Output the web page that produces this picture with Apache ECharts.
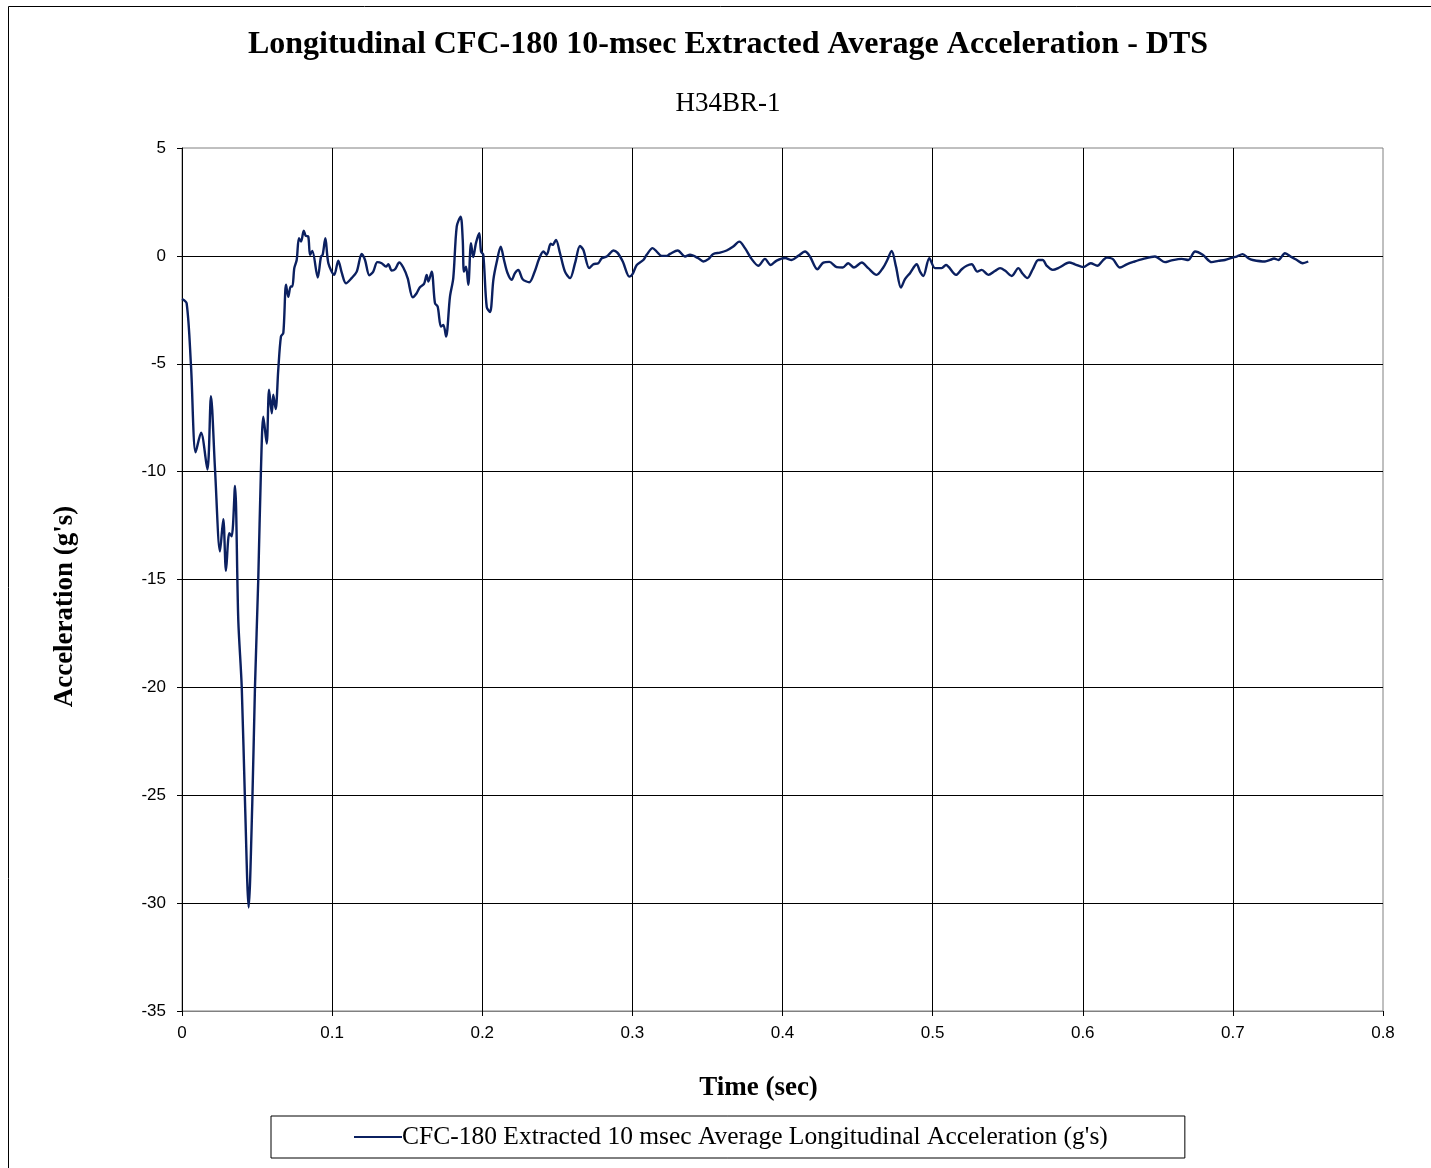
<!DOCTYPE html>
<html>
<head>
<meta charset="utf-8">
<title>Longitudinal CFC-180 10-msec Extracted Average Acceleration - DTS</title>
<script src="https://cdn.jsdelivr.net/npm/echarts@6/dist/echarts.min.js"></script>
<style>
  html, body { margin: 0; padding: 0; background: #fff; }
  #chart { width: 1431px; height: 1168px; }
</style>
</head>
<body>
<div id="chart"></div>
<script>
// time (sec) and acceleration (g's)
const timeSec = [
  0, 0.0031, 0.0060, 0.0091, 0.0127, 0.0169, 0.0193, 0.0220, 0.0253, 0.0275,
  0.0293, 0.0315, 0.0331, 0.0353, 0.0375, 0.0398, 0.0420, 0.0444, 0.0468, 0.0486,
  0.0508, 0.0526, 0.0542, 0.0564, 0.0580, 0.0598, 0.0608, 0.0624, 0.0641, 0.0659,
  0.0675, 0.0693, 0.0708, 0.0724, 0.0735, 0.0748, 0.0764, 0.0779, 0.0793, 0.0811,
  0.0824, 0.0841, 0.0853, 0.0868, 0.0904, 0.0926, 0.0937, 0.0955, 0.0975, 0.1014,
  0.1041, 0.1064, 0.1092, 0.1130, 0.1164, 0.1197, 0.1219, 0.1248, 0.1274, 0.1301,
  0.1330, 0.1359, 0.1374, 0.1397, 0.1419, 0.1447, 0.1474, 0.1503, 0.1537, 0.1563,
  0.1585, 0.1612, 0.1630, 0.1641, 0.1663, 0.1685, 0.1703, 0.1725, 0.1741, 0.1759,
  0.1785, 0.1807, 0.1830, 0.1856, 0.1870, 0.1878, 0.1892, 0.1907, 0.1925, 0.1940,
  0.1958, 0.1980, 0.1992, 0.2007, 0.2030, 0.2052, 0.2074, 0.2096, 0.2123, 0.2145,
  0.2167, 0.2196, 0.2218, 0.2240, 0.2269, 0.2313, 0.2347, 0.2380, 0.2407, 0.2429,
  0.2456, 0.2469, 0.2491, 0.2518, 0.2551, 0.2585, 0.2618, 0.2651, 0.2673, 0.2713,
  0.2740, 0.2773, 0.2796, 0.2829, 0.2846, 0.2873, 0.2900, 0.2936, 0.2980, 0.3002,
  0.3029, 0.3073, 0.3095, 0.3135, 0.3162, 0.3195, 0.3229, 0.3251, 0.3302, 0.3351,
  0.3384, 0.3439, 0.3472, 0.3506, 0.3539, 0.3584, 0.3628, 0.3672, 0.3712, 0.3750,
  0.3795, 0.3839, 0.3883, 0.3921, 0.3961, 0.4017, 0.4061, 0.4105, 0.4150, 0.4183,
  0.4232, 0.4272, 0.4312, 0.4361, 0.4401, 0.4438, 0.4476, 0.4528, 0.4571, 0.4627,
  0.4671, 0.4698, 0.4727, 0.4756, 0.4789, 0.4816, 0.4849, 0.4894, 0.4916, 0.4938,
  0.4978, 0.5016, 0.5060, 0.5089, 0.5156, 0.5194, 0.5227, 0.5260, 0.5298, 0.5327,
  0.5371, 0.5415, 0.5449, 0.5482, 0.5527, 0.5571, 0.5600, 0.5631, 0.5667, 0.5704,
  0.5733, 0.5760, 0.5800, 0.5844, 0.5910, 0.5948, 0.6004, 0.6053, 0.6097, 0.6133,
  0.6160, 0.6199, 0.6248, 0.6293, 0.6337, 0.6403, 0.6481, 0.6548, 0.6586, 0.6659,
  0.6703, 0.6748, 0.6799, 0.6859, 0.6903, 0.6947, 0.6999, 0.7025, 0.7065, 0.7103,
  0.7132, 0.7214, 0.7248, 0.7274, 0.7303, 0.7347, 0.7392, 0.7426, 0.7465, 0.7502
];
const accelG = [
  -2.0, -2.2, -5.1, -9.1, -8.2, -9.9, -6.5, -9.9, -13.7, -12.2,
  -14.6, -12.85, -13.0, -10.66, -16.9, -20.0, -25.4, -30.2, -25.4, -20.0,
  -15.0, -9.9, -7.45, -8.7, -6.2, -7.3, -6.44, -7.1, -5.3, -3.74,
  -3.57, -1.34, -1.9, -1.42, -1.42, -0.57, -0.19, 0.82, 0.66, 1.17,
  0.93, 0.9, 0.05, 0.23, -1.0, -0.03, 0.05, 0.82, -0.34, -0.88,
  -0.22, -0.78, -1.27, -1.03, -0.73, 0.09, -0.19, -0.9, -0.73, -0.29,
  -0.34, -0.5, -0.39, -0.68, -0.62, -0.31, -0.54, -1.03, -1.92, -1.73,
  -1.45, -1.3, -0.88, -1.19, -0.73, -2.19, -2.35, -3.28, -3.2, -3.74,
  -1.89, -1.03, 1.36, 1.82, 0.74, -0.73, -0.5, -1.34, 0.59, -0.06,
  0.59, 1.05, 0.2, 0.05, -2.38, -2.6, -1.11, -0.3, 0.43, -0.19,
  -0.77, -1.11, -0.8, -0.65, -1.08, -1.22, -0.77, -0.11, 0.2, 0.05,
  0.56, 0.51, 0.74, 0.12, -0.73, -1.03, -0.34, 0.46, 0.28, -0.57,
  -0.39, -0.34, -0.11, -0.03, 0.08, 0.25, 0.15, -0.26, -0.96, -0.83,
  -0.42, -0.19, 0.05, 0.36, 0.2, 0.0, 0.0, 0.09, 0.25, -0.03,
  0.05, -0.11, -0.26, -0.15, 0.09, 0.15, 0.25, 0.43, 0.66, 0.36,
  -0.15, -0.46, -0.14, -0.42, -0.22, -0.1, -0.19, 0.0, 0.2, -0.03,
  -0.62, -0.31, -0.28, -0.52, -0.54, -0.34, -0.54, -0.31, -0.57, -0.88,
  -0.54, -0.19, 0.23, -0.5, -1.47, -1.08, -0.8, -0.39, -0.73, -0.93,
  -0.11, -0.57, -0.57, -0.42, -0.88, -0.62, -0.46, -0.39, -0.73, -0.65,
  -0.88, -0.7, -0.57, -0.68, -0.93, -0.57, -0.83, -1.03, -0.62, -0.19,
  -0.19, -0.46, -0.65, -0.54, -0.31, -0.39, -0.52, -0.34, -0.46, -0.22,
  -0.08, -0.14, -0.54, -0.39, -0.28, -0.14, -0.03, -0.29, -0.22, -0.14,
  -0.19, 0.2, 0.05, -0.29, -0.23, -0.19, -0.08, -0.03, 0.08, -0.11,
  -0.19, -0.26, -0.19, -0.12, -0.19, 0.12, -0.06, -0.19, -0.34, -0.26
];

const serif = '"Liberation Serif", "Times New Roman", serif';
const sans = '"Liberation Sans", Arial, sans-serif';
const lineColor = '#0b2060';
const seriesName = "CFC-180 Extracted 10 msec Average Longitudinal Acceleration (g's)";

const chart = echarts.init(document.getElementById('chart'), null, { renderer: 'canvas' });

chart.setOption({
  backgroundColor: '#fff',
  animation: false,
  title: [
    {
      text: 'Longitudinal CFC-180 10-msec Extracted Average Acceleration - DTS',
      left: 723,
      top: 24,
      textAlign: 'center',
      textStyle: { fontFamily: serif, fontSize: 32, fontWeight: 'bold', color: '#000' }
    },
    {
      text: 'H34BR-1',
      left: 723,
      top: 85,
      textAlign: 'center',
      textStyle: { fontFamily: serif, fontSize: 27, fontWeight: 'normal', color: '#000' }
    }
  ],
  graphic: [
    {
      type: 'rect',
      shape: { x: 8.5, y: 6.5, width: 1440, height: 1180 },
      style: { fill: 'none', stroke: '#000', lineWidth: 1 },
      silent: true,
      z: -1
    }
  ],
  grid: {
    left: 182,
    top: 148,
    width: 1201,
    height: 863,
    show: true,
    borderColor: '#808080',
    borderWidth: 1,
    backgroundColor: '#fff'
  },
  legend: {
    left: 271,
    top: 1116,
    padding: [8, 77, 8, 83],
    borderColor: '#000',
    borderWidth: 1,
    icon: 'rect',
    itemWidth: 48,
    itemHeight: 2,
    textStyle: { fontFamily: serif, fontSize: 25.5, color: '#000', padding: [0, 0, 0, -5] },
    data: [seriesName]
  },
  xAxis: {
    type: 'value',
    min: 0,
    max: 0.8,
    interval: 0.1,
    name: 'Time (sec)',
    nameLocation: 'middle',
    nameGap: 64,
    nameTextStyle: { fontFamily: serif, fontSize: 27, fontWeight: 'bold', color: '#000', padding: [0, 0, 0, -48] },
    axisLine: { show: true, onZero: false, lineStyle: { color: '#808080', width: 1 } },
    axisTick: { show: true, inside: false, length: 5, lineStyle: { color: '#000' } },
    axisLabel: { fontFamily: sans, fontSize: 17, color: '#000', margin: 14 },
    splitLine: { show: true, showMinLine: false, showMaxLine: false, lineStyle: { color: '#000', width: 1 } }
  },
  yAxis: {
    type: 'value',
    min: -35,
    max: 5,
    interval: 5,
    name: "Acceleration (g's)",
    nameLocation: 'middle',
    nameGap: 103,
    nameRotate: 90,
    nameTextStyle: { fontFamily: serif, fontSize: 27, fontWeight: 'bold', color: '#000', padding: [0, 54, 0, 0] },
    axisLine: { show: true, onZero: false, lineStyle: { color: '#000', width: 1 } },
    axisTick: { show: true, inside: false, length: 5, lineStyle: { color: '#000' } },
    axisLabel: { fontFamily: sans, fontSize: 17, color: '#000', margin: 16 },
    splitLine: { show: true, showMinLine: false, showMaxLine: false, lineStyle: { color: '#000', width: 1 } }
  },
  series: [
    {
      name: seriesName,
      type: 'line',
      data: timeSec.map((t, i) => [t, accelG[i]]),
      showSymbol: false,
      smooth: 0.3,
      lineStyle: { color: lineColor, width: 2.4 },
      itemStyle: { color: lineColor },
      z: 5
    }
  ]
});
</script>
</body>
</html>
